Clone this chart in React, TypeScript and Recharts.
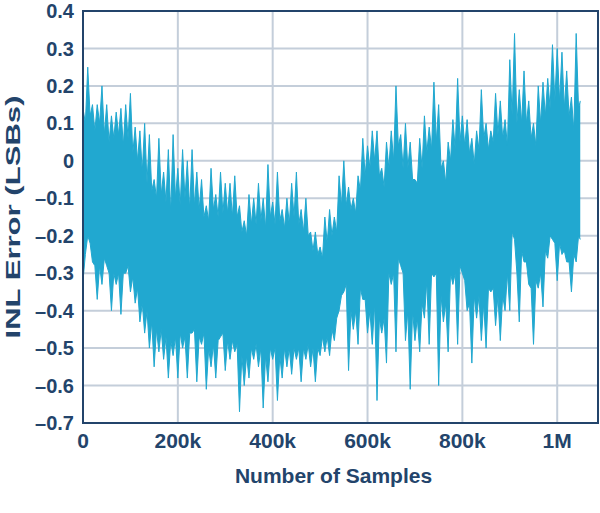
import { ComposedChart, Area, XAxis, YAxis, CartesianGrid, ReferenceArea, Label } from "recharts";

// sample index in thousands: peak readings
const samplesK = [
  0, 10, 20, 30, 40, 50, 60, 70, 80, 90,
  100, 110, 120, 130, 140, 150, 160, 170, 180, 190,
  200, 210, 220, 230, 240, 250, 260, 270, 280, 290,
  300, 310, 320, 330, 340, 350, 360, 370, 380, 390,
  400, 410, 420, 430, 440, 450, 460, 470, 480, 490,
  500, 510, 520, 530, 540, 550, 560, 570, 580, 590,
  600, 610, 620, 630, 640, 650, 660, 670, 680, 690,
  700, 710, 720, 730, 740, 750, 760, 770, 780, 790,
  800, 810, 820, 830, 840, 850, 860, 870, 880, 890,
  900, 910, 920, 930, 940, 950, 960, 970, 980, 990,
  1000, 1010, 1020, 1030, 1040, 1048.576,
];

// upper envelope of the INL error (LSBs) at samplesK
const inlHigh = [
  0.14, 0.25, 0.15, 0.15, 0.2, 0.15, 0.12, 0.13, 0.14, 0.15,
  0.18, 0.09, 0.08, 0.1, 0.07, -0.05, 0.06, -0.03, 0.03, 0.07,
  -0.02, 0.03, 0.0, 0.03, -0.03, -0.05, -0.12, -0.02, -0.09, -0.03,
  -0.06, -0.06, -0.04, -0.12, -0.16, -0.09, -0.1, -0.06, -0.1, -0.01,
  -0.11, -0.03, -0.13, -0.1, -0.06, -0.03, -0.13, -0.1, -0.19, -0.19,
  -0.23, -0.15, -0.13, -0.15, -0.04, 0.0, -0.07, -0.1, -0.04, 0.06,
  0.04, 0.08, 0.08, -0.02, 0.05, 0.08, 0.2, 0.07, 0.1, 0.05,
  -0.05, 0.06, 0.12, 0.09, 0.21, 0.15, 0.0, 0.05, 0.11, 0.22,
  0.12, 0.11, 0.06, 0.08, 0.19, 0.1, 0.08, 0.18, 0.16, 0.11,
  0.27, 0.34, 0.19, 0.24, 0.16, 0.1, 0.2, 0.21, 0.22, 0.31,
  0.3, 0.29, 0.24, 0.17, 0.34, 0.16,
];

// lower envelope of the INL error (LSBs) at samplesK
const inlLow = [
  -0.32, -0.2, -0.27, -0.37, -0.33, -0.28, -0.4, -0.33, -0.41, -0.3,
  -0.35, -0.38, -0.43, -0.46, -0.5, -0.55, -0.51, -0.53, -0.58, -0.52,
  -0.58, -0.5, -0.58, -0.46, -0.59, -0.49, -0.61, -0.55, -0.58, -0.47,
  -0.56, -0.53, -0.51, -0.67, -0.6, -0.58, -0.53, -0.55, -0.66, -0.59,
  -0.53, -0.64, -0.58, -0.55, -0.57, -0.53, -0.59, -0.53, -0.55, -0.59,
  -0.52, -0.51, -0.52, -0.48, -0.4, -0.35, -0.56, -0.45, -0.49, -0.37,
  -0.46, -0.49, -0.64, -0.46, -0.54, -0.33, -0.51, -0.28, -0.48, -0.61,
  -0.48, -0.51, -0.42, -0.49, -0.31, -0.6, -0.43, -0.51, -0.33, -0.49,
  -0.3, -0.4, -0.54, -0.42, -0.48, -0.5, -0.35, -0.44, -0.48, -0.4,
  -0.4, -0.21, -0.43, -0.27, -0.33, -0.49, -0.34, -0.39, -0.26, -0.21,
  -0.32, -0.25, -0.27, -0.35, -0.27, -0.21,
];

// sample index in thousands: dense-core readings between the peaks
const coreK = [
  5, 15, 25, 35, 45, 55, 65, 75, 85, 95,
  105, 115, 125, 135, 145, 155, 165, 175, 185, 195,
  205, 215, 225, 235, 245, 255, 265, 275, 285, 295,
  305, 315, 325, 335, 345, 355, 365, 375, 385, 395,
  405, 415, 425, 435, 445, 455, 465, 475, 485, 495,
  505, 515, 525, 535, 545, 555, 565, 575, 585, 595,
  605, 615, 625, 635, 645, 655, 665, 675, 685, 695,
  705, 715, 725, 735, 745, 755, 765, 775, 785, 795,
  805, 815, 825, 835, 845, 855, 865, 875, 885, 895,
  905, 915, 925, 935, 945, 955, 965, 975, 985, 995,
  1005, 1015, 1025, 1035, 1045,
];

const coreHigh = [
  0.1, 0.12, 0.08, 0.1, 0.07, 0.05, 0.06, 0.07, 0.04, 0.06,
  0.02, 0.0, -0.03, -0.06, -0.08, -0.1, -0.09, -0.11, -0.14, -0.1,
  -0.12, -0.1, -0.13, -0.12, -0.13, -0.15, -0.16, -0.13, -0.15, -0.14,
  -0.14, -0.15, -0.15, -0.19, -0.2, -0.17, -0.17, -0.16, -0.18, -0.15,
  -0.17, -0.16, -0.18, -0.17, -0.15, -0.17, -0.19, -0.2, -0.24, -0.25,
  -0.26, -0.22, -0.2, -0.19, -0.12, -0.12, -0.13, -0.14, -0.08, -0.04,
  -0.02, 0.0, -0.04, -0.07, -0.02, 0.0, 0.04, -0.02, -0.02, -0.05,
  -0.06, -0.02, 0.02, 0.03, 0.05, -0.02, -0.06, 0.0, 0.03, 0.05,
  0.04, 0.02, -0.01, 0.03, 0.06, 0.03, 0.05, 0.07, 0.06, 0.04,
  0.12, 0.1, 0.1, 0.1, 0.06, 0.04, 0.1, 0.12, 0.14, 0.16,
  0.16, 0.14, 0.12, 0.08, 0.14,
];

const coreLow = [
  -0.25, -0.22, -0.28, -0.28, -0.26, -0.3, -0.3, -0.3, -0.3, -0.28,
  -0.31, -0.34, -0.38, -0.4, -0.43, -0.45, -0.45, -0.47, -0.48, -0.47,
  -0.46, -0.47, -0.46, -0.45, -0.47, -0.46, -0.5, -0.49, -0.48, -0.46,
  -0.48, -0.48, -0.49, -0.52, -0.52, -0.5, -0.49, -0.5, -0.52, -0.5,
  -0.5, -0.52, -0.5, -0.5, -0.5, -0.5, -0.5, -0.49, -0.5, -0.5,
  -0.47, -0.47, -0.45, -0.42, -0.36, -0.33, -0.4, -0.4, -0.34, -0.37,
  -0.4, -0.38, -0.42, -0.42, -0.3, -0.3, -0.26, -0.3, -0.4, -0.4,
  -0.42, -0.38, -0.32, -0.3, -0.3, -0.36, -0.38, -0.3, -0.3, -0.28,
  -0.32, -0.38, -0.36, -0.36, -0.38, -0.34, -0.34, -0.36, -0.36, -0.3,
  -0.19, -0.3, -0.24, -0.27, -0.34, -0.32, -0.3, -0.24, -0.2, -0.22,
  -0.22, -0.24, -0.27, -0.25, -0.2,
];

const xTicks = [0, 200000, 400000, 600000, 800000, 1000000];
const yTicks = [0.4, 0.3, 0.2, 0.1, 0, -0.1, -0.2, -0.3, -0.4, -0.5, -0.6, -0.7];

const navy = "#23446b";
const gridColor = "#c4ceda";
const traceColor = "#21a8d0";
const font = "'Liberation Sans', Arial, sans-serif";

const chartData = [
  ...samplesK.map((k, i) => ({ sample: k * 1000, band: [inlLow[i], inlHigh[i]] })),
  ...coreK.map((k, i) => ({ sample: k * 1000, band: [coreLow[i], coreHigh[i]] })),
].sort((a, b) => a.sample - b.sample);

const fmtX = (v: number) => (v === 0 ? "0" : v >= 1000000 ? v / 1000000 + "M" : v / 1000 + "k");
const fmtY = (v: number) => (v === 0 ? "0" : v < 0 ? "\u2013" + Math.abs(v).toFixed(1) : v.toFixed(1));

export default function App() {
  return (
    <div style={{ position: "absolute", left: 0, top: 0, background: "#fff" }}>
      <ComposedChart width={600} height={513} data={chartData} margin={{ top: 11, right: 2, left: 0, bottom: 0 }}>
        <CartesianGrid stroke={gridColor} strokeWidth={2} />
        <XAxis
          dataKey="sample"
          type="number"
          domain={[0, 1086000]}
          ticks={xTicks}
          tickFormatter={fmtX}
          interval={0}
          height={90}
          tickLine={false}
          axisLine={false}
          tickMargin={4}
          tick={{ fill: navy, fontSize: 21, fontWeight: 700, fontFamily: font }}
        >
          <Label
            content={({ viewBox }: any) => (
              <text
                x={viewBox.x + viewBox.width / 2 - 7}
                y={483}
                textAnchor="middle"
                fill={navy}
                fontSize={21}
                fontWeight={700}
                fontFamily={font}
              >
                Number of Samples
              </text>
            )}
          />
        </XAxis>
        <YAxis
          type="number"
          domain={[-0.7, 0.4]}
          ticks={yTicks}
          tickFormatter={fmtY}
          interval={0}
          width={83}
          tickLine={false}
          axisLine={false}
          tickMargin={3}
          tick={{ fill: navy, fontSize: 20, fontWeight: 700, fontFamily: font }}
        >
          <Label
            content={({ viewBox }: any) => {
              const cx = 13;
              const cy = viewBox.y + viewBox.height / 2;
              return (
                <text
                  x={cx}
                  y={cy}
                  transform={`rotate(-90 ${cx} ${cy})`}
                  textAnchor="middle"
                  dominantBaseline="central"
                  fill={navy}
                  fontSize={20}
                  fontWeight={700}
                  fontFamily={font}
                  textLength={243}
                  lengthAdjust="spacingAndGlyphs"
                >
                  INL Error (LSBs)
                </text>
              );
            }}
          />
        </YAxis>
        <Area
          dataKey="band"
          type="linear"
          stroke={traceColor}
          strokeWidth={1}
          fill={traceColor}
          fillOpacity={1}
          isAnimationActive={false}
          dot={false}
          activeDot={false}
        />
        <ReferenceArea
          x1={0}
          x2={1086000}
          y1={-0.7}
          y2={0.4}
          fill="none"
          fillOpacity={0}
          stroke={navy}
          strokeWidth={2}
          ifOverflow="visible"
        />
      </ComposedChart>
    </div>
  );
}
